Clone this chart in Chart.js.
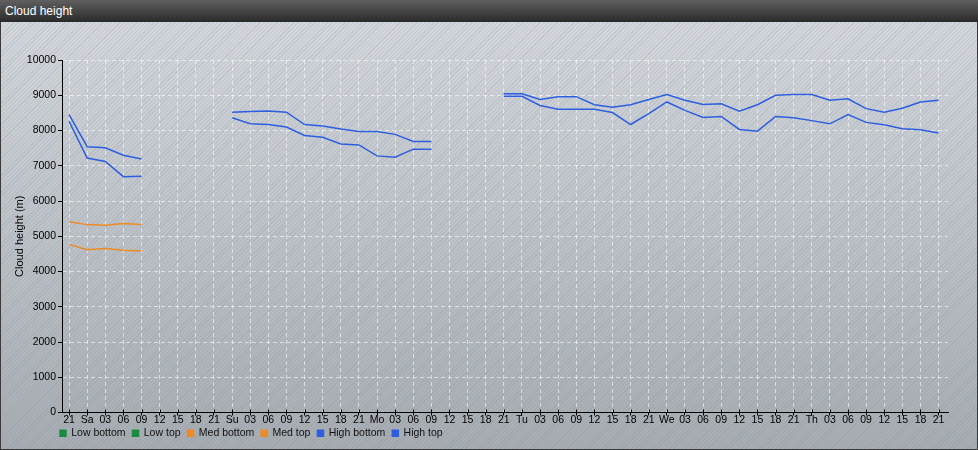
<!DOCTYPE html>
<html>
<head>
<meta charset="utf-8">
<title>Cloud height</title>
<script src="https://cdn.jsdelivr.net/npm/chart.js@4.4.1/dist/chart.umd.min.js"></script>
<style>
  html, body { margin: 0; padding: 0; background: #fff; }
  #wrap { position: relative; width: 978px; height: 450px; overflow: hidden; }
  #bar {
    position: absolute; left: 0; top: 0; width: 978px; height: 22px;
    background: linear-gradient(#606060, #2a2a2a);
    color: #fff; font: 12px "Liberation Sans", Arial, sans-serif;
    line-height: 22px; padding-left: 5px; box-sizing: border-box;
  }
  #panel {
    position: absolute; left: 0; top: 22px; width: 978px; height: 428px;
    box-sizing: border-box; border: 1px solid #3a3a3a; border-top: none;
    background:
      repeating-linear-gradient(135deg, rgba(110, 130, 160, 0.16) 0 1px, rgba(255, 255, 255, 0) 1px 3px),
      linear-gradient(#d3d7db, #a7acb1);
  }
  #chart { position: absolute; left: 0; top: 0; }
</style>
</head>
<body>
<div id="wrap">
  <div id="bar">Cloud height</div>
  <div id="panel"></div>
  <canvas id="chart" width="978" height="450"></canvas>
</div>
<script>
const categories = [
  '21',
  'Sa', '03', '06', '09', '12', '15', '18', '21',
  'Su', '03', '06', '09', '12', '15', '18', '21',
  'Mo', '03', '06', '09', '12', '15', '18', '21',
  'Tu', '03', '06', '09', '12', '15', '18', '21',
  'We', '03', '06', '09', '12', '15', '18', '21',
  'Th', '03', '06', '09', '12', '15', '18', '21'
];

const lowBottom = categories.map(() => null);
const lowTop = categories.map(() => null);

const medBottom = [
  4770, 4620, 4650, 4600, 4580, null, null, null, null,
  null, null, null, null, null, null, null, null,
  null, null, null, null, null, null, null, null,
  null, null, null, null, null, null, null, null,
  null, null, null, null, null, null, null, null,
  null, null, null, null, null, null, null, null
];
const medTop = [
  5410, 5330, 5310, 5360, 5330, null, null, null, null,
  null, null, null, null, null, null, null, null,
  null, null, null, null, null, null, null, null,
  null, null, null, null, null, null, null, null,
  null, null, null, null, null, null, null, null,
  null, null, null, null, null, null, null, null
];
const highBottom = [
  8260, 7220, 7120, 6690, 6700, null, null, null, null,
  8360, 8190, 8170, 8100, 7860, 7810, 7620, 7590,
  7280, 7240, 7470, 7470, null, null, null, 8970,
  8970, 8710, 8600, 8600, 8600, 8510, 8170, 8480,
  8810, 8570, 8370, 8400, 8030, 7980, 8400, 8360,
  8280, 8190, 8450, 8230, 8160, 8050, 8020, 7930
];
const highTop = [
  8450, 7540, 7510, 7300, 7190, null, null, null, null,
  8520, 8540, 8550, 8520, 8170, 8130, 8040, 7970,
  7970, 7890, 7690, 7690, null, null, null, 9040,
  9040, 8880, 8960, 8960, 8730, 8660, 8730, 8880,
  9020, 8860, 8740, 8760, 8550, 8730, 9000, 9020,
  9020, 8860, 8900, 8620, 8520, 8630, 8810, 8860
];

const yTicks = [0, 1000, 2000, 3000, 4000, 5000, 6000, 7000, 8000, 9000, 10000];

const FONT = { family: '"Liberation Sans", Arial, sans-serif', size: 10.5 };
const GREEN = '#1b8a42';
const ORANGE = '#f08a24';
const BLUE = '#2d5ee0';

function toPoints(values) {
  return values.map((v, i) => ({ x: i, y: v }));
}

function series(label, values, color) {
  return {
    label,
    data: toPoints(values),
    borderColor: color,
    backgroundColor: color,
    borderWidth: 1.5,
    pointRadius: 0,
    pointHoverRadius: 0,
    tension: 0,
    spanGaps: false
  };
}

// small cross marks above the x axis; legend tucked right under the tick labels
const axisExtras = {
  id: 'axisExtras',
  beforeDraw(chart) {
    if (chart.legend) {
      chart.legend.left = 53;
      chart.legend.top = 421;
    }
  },
  afterDraw(chart) {
    const xs = chart.scales.x;
    const ctx = chart.ctx;
    ctx.save();
    ctx.strokeStyle = '#000';
    ctx.lineWidth = 1;
    ctx.beginPath();
    categories.forEach((c, i) => {
      const px = Math.round(xs.getPixelForValue(i)) + 0.5;
      ctx.moveTo(px, xs.top - 3);
      ctx.lineTo(px, xs.top);
    });
    ctx.stroke();
    ctx.restore();
  }
};

Chart.defaults.font.family = FONT.family;
Chart.defaults.font.size = FONT.size;
Chart.defaults.color = '#000';

new Chart(document.getElementById('chart').getContext('2d'), {
  type: 'line',
  data: {
    datasets: [
      series('Low bottom', lowBottom, GREEN),
      series('Low top', lowTop, GREEN),
      series('Med bottom', medBottom, ORANGE),
      series('Med top', medTop, ORANGE),
      series('High bottom', highBottom, BLUE),
      series('High top', highTop, BLUE)
    ]
  },
  plugins: [axisExtras],
  options: {
    responsive: false,
    animation: false,
    devicePixelRatio: 1,
    layout: { padding: { left: 9, top: 60, right: 30, bottom: -7 } },
    plugins: {
      title: { display: false },
      tooltip: { enabled: false },
      legend: {
        position: 'bottom',
        align: 'start',
        labels: {
          boxWidth: 6,
          boxHeight: 6,
          padding: 7,
          color: '#111',
          font: FONT
        }
      }
    },
    scales: {
      x: {
        type: 'linear',
        min: -0.39,
        max: 48.52,
        afterBuildTicks(scale) {
          scale.ticks = categories.map((c, i) => ({ value: i }));
        },
        afterFit(scale) {
          scale.height = 17;
        },
        ticks: {
          autoSkip: false,
          maxRotation: 0,
          padding: -2,
          color: '#000',
          font: FONT,
          callback: (value) => categories[value]
        },
        grid: {
          color: 'rgba(255, 255, 255, 0.55)',
          tickColor: '#000',
          tickLength: 3,
          tickBorderDash: []
        },
        border: { color: '#000', width: 1, dash: [4, 3] }
      },
      y: {
        min: 0,
        max: 10000,
        afterBuildTicks(scale) {
          scale.ticks = yTicks.map((v) => ({ value: v }));
        },
        afterFit(scale) {
          scale.width = 53;
        },
        title: {
          display: true,
          text: 'Cloud height (m)',
          color: '#000',
          font: { family: FONT.family, size: 11 },
          padding: { top: 4, bottom: 4 }
        },
        ticks: {
          padding: 2,
          color: '#000',
          font: FONT,
          callback: (value) => String(value)
        },
        grid: {
          color: 'rgba(255, 255, 255, 0.55)',
          tickColor: '#000',
          tickLength: 4,
          tickBorderDash: []
        },
        border: { color: '#000', width: 1, dash: [4, 3] }
      }
    }
  }
});
</script>
</body>
</html>
